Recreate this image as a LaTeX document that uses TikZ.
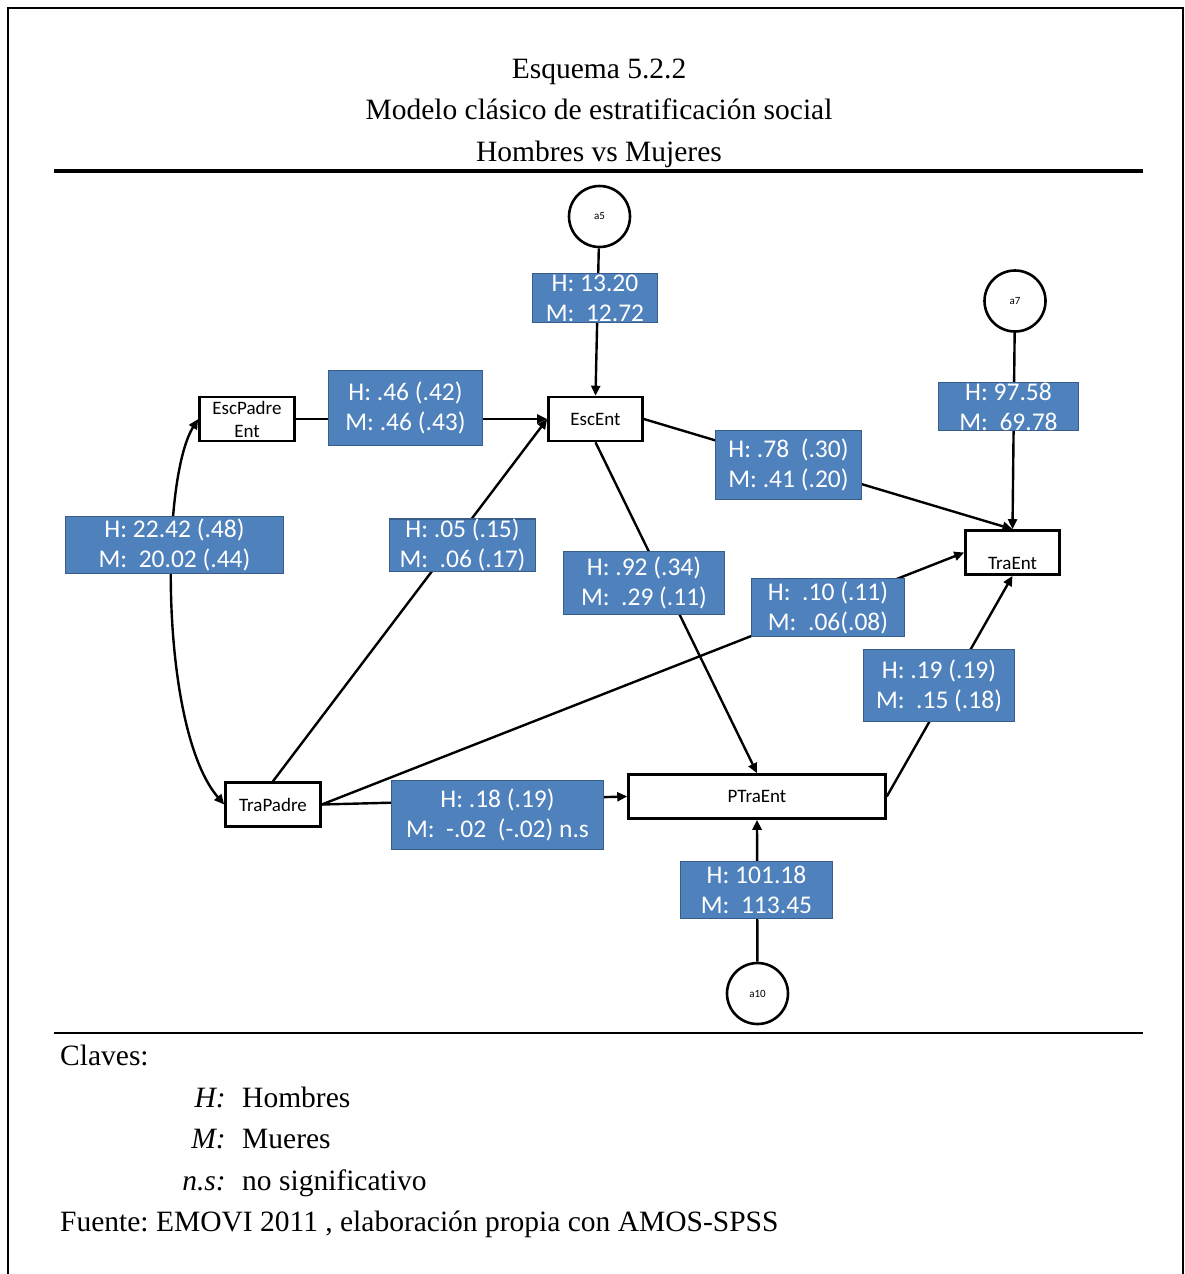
\documentclass[tikz,border=0pt]{standalone}
\usepackage{fontspec}
\setmainfont{Liberation Serif}
\newfontfamily\calibrilike{Carlito}
\usetikzlibrary{arrows.meta}
\definecolor{coefFill}{HTML}{4F81BD}
\definecolor{coefLine}{HTML}{385D8A}
\frenchspacing

\begin{document}
\begin{tikzpicture}[x=1pt,y=-1pt,
  varfont/.style={font=\calibrilike\fontsize{19}{23}\selectfont},
  var/.style={draw, line width=2.6pt, fill=white, inner sep=0pt, align=center, varfont},
  err/.style={circle, draw, line width=2.6pt, fill=white, minimum size=61pt, inner sep=0pt,
              font=\calibrilike\fontsize{11}{13}\selectfont},
  coef/.style={fill=coefFill, draw=coefLine, line width=1.2pt, text=white, inner sep=0pt,
               align=center, font=\calibrilike\fontsize{25.5}{30}\selectfont},
  link/.style={line width=2.4pt, -{Triangle[length=10pt,width=9pt]}},
  covlink/.style={line width=2.4pt, {Triangle[length=10pt,width=9pt]}-{Triangle[length=10pt,width=9pt]}},
  serifbig/.style={font=\fontsize{29.5}{41.5}\selectfont},
  legend/.style={inner sep=0pt, font=\fontsize{29.5}{35}\selectfont}
]
\useasboundingbox (0,0) rectangle (1185,1274);

% page frame (open at the bottom)
\draw[line width=1.5pt] (8,1274) -- (8,8) -- (1183,8) -- (1183,1274);

% heading
\node[serifbig, align=center] (title) at (599,113)
  {Esquema 5.2.2\\Modelo clásico de estratificación social\\Hombres vs Mujeres};
\draw[line width=3.5pt] (54,171) -- (1143,171);
\draw[line width=2pt] (54,1033) -- (1143,1033);

% observed variables
\node[var, minimum width=95pt, minimum height=44pt] (escpadre) at (247,419) {EscPadre\\Ent};
\node[var, minimum width=94pt, minimum height=44pt] (escent) at (595.5,419) {EscEnt};
\node[var, minimum width=94pt, minimum height=44pt,
      label={[varfont, yshift=-11pt]center:TraEnt}] (traent) at (1012.5,552.5) {};
\node[var, minimum width=95pt, minimum height=44pt] (trapadre) at (273,804.5) {TraPadre};
\node[var, minimum width=257pt, minimum height=44pt] (ptraent) at (757,796.5) {PTraEnt};

% error terms
\node[err] (a5) at (599.5,216.5) {a5};
\node[err] (a7) at (1015,301) {a7};
\node[err] (a10) at (757.5,993.5) {a10};

% paths
\draw[link] (a5) -- (escent.north);
\draw[link] (escpadre) -- (escent);
\draw[link] (escent.east) -- (traent.north);
\draw[link] (a7) -- (traent.north);
\draw[link] (escent.south) -- (ptraent.north);
\draw[link] (trapadre.north) -- (escent.west);
\draw[link] (trapadre.east) -- (traent.west);
\draw[link] (trapadre.east) -- (ptraent.west);
\draw[link] (ptraent.east) -- (traent.south);
\draw[link] (a10) -- (ptraent.south);
\draw[covlink] (escpadre.west) .. controls (160,480) and (160,730) .. (trapadre.west);

% estimates
\node[coef, minimum width=125pt, minimum height=49pt] (c-a5) at (595,298) {H: 13.20\\M: \ 12.72};
\node[coef, minimum width=154pt, minimum height=75pt] (c-esc) at (405.5,408) {H: .46 (.42)\\M: .46 (.43)};
\node[coef, minimum width=140pt, minimum height=48pt] (c-a7) at (1008.5,406.5) {H: 97.58\\M: \ 69.78};
\node[coef, minimum width=146pt, minimum height=69pt] (c-escent) at (788.5,465) {H: .78 \ (.30)\\M: .41 (.20)};
\node[coef, minimum width=218pt, minimum height=57pt] (c-cov) at (174.5,545) {H: 22.42 (.48)\\M: \ 20.02 (.44)};
\node[coef, minimum width=146pt, minimum height=49pt] (c-trapadre) at (462.5,545) {H: .05 (.15)\\M: \ .06 (.17)};
\node[coef, minimum width=161pt, minimum height=63pt] (c-ptra) at (644,583) {H: .92 (.34)\\M: \ .29 (.11)};
\node[coef, minimum width=153pt, minimum height=58pt] (c-tratra) at (828,607.5) {H: \ .10 (.11)\\M: \ .06(.08)};
\node[coef, minimum width=151pt, minimum height=72pt] (c-pt) at (939,685.5) {H: .19 (.19)\\M: \ .15 (.18)};
\node[coef, minimum width=212pt, minimum height=69pt] (c-tp) at (497.5,815) {H: .18 (.19)\\M: \ -.02 \ (-.02) n.s};
\node[coef, minimum width=152pt, minimum height=57pt] (c-a10) at (756.5,890) {H: 101.18\\M: \ 113.45};

% key and source
\node[legend, anchor=base west] (claves) at (60,1065) {Claves:};
\node[legend, anchor=base east] (kh) at (226,1107) {\textit{H:}};
\node[legend, anchor=base west] (vh) at (242,1107) {Hombres};
\node[legend, anchor=base east] (km) at (226,1148) {\textit{M:}};
\node[legend, anchor=base west] (vm) at (242,1148) {Mueres};
\node[legend, anchor=base east] (kn) at (226,1190) {\textit{n.s:}};
\node[legend, anchor=base west] (vn) at (242,1190) {no significativo};
\node[legend, anchor=base west] (fuente) at (60,1231) {Fuente: EMOVI 2011 , elaboración propia con AMOS-SPSS};
\end{tikzpicture}
\end{document}
